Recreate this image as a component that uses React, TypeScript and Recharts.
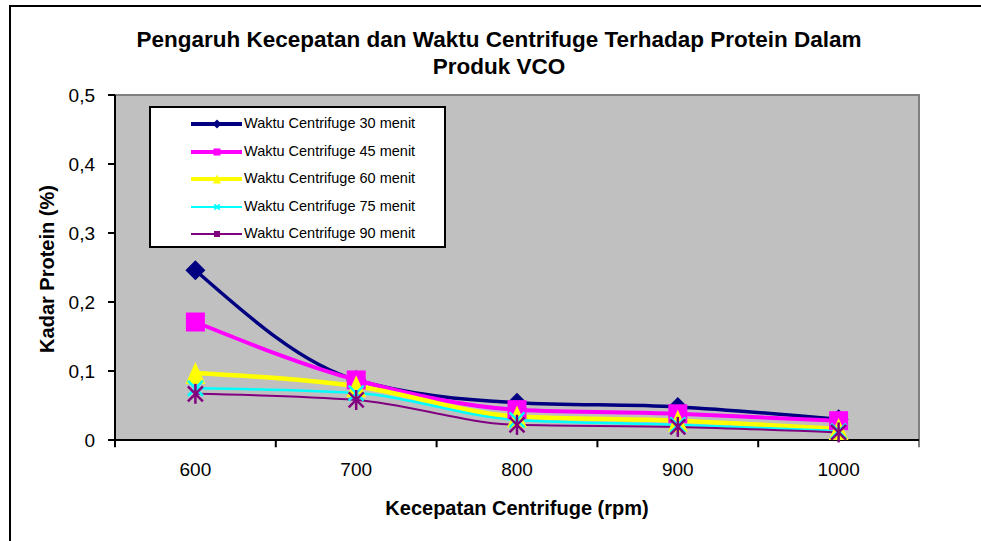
import React from "react"
import {
  LineChart,
  Line,
  XAxis,
  YAxis,
  ReferenceArea,
  ReferenceLine,
  Legend,
} from "recharts"

const rpm = [600, 700, 800, 900, 1000]
const waktu30 = [0.246, 0.087, 0.054, 0.048, 0.03]
const waktu45 = [0.171, 0.087, 0.044, 0.038, 0.028]
const waktu60 = [0.097, 0.078, 0.034, 0.028, 0.016]
const waktu75 = [0.075, 0.068, 0.029, 0.022, 0.013]
const waktu90 = [0.067, 0.058, 0.022, 0.019, 0.011]

const seriesNames = [
  "Waktu Centrifuge 30 menit",
  "Waktu Centrifuge 45 menit",
  "Waktu Centrifuge 60 menit",
  "Waktu Centrifuge 75 menit",
  "Waktu Centrifuge 90 menit",
]
const yTicks = [0, 0.1, 0.2, 0.3, 0.4, 0.5]
const xEdges = [550, 650, 750, 850, 950, 1050]

const chartData = rpm.map((r, i) => ({
  rpm: r,
  w30: waktu30[i],
  w45: waktu45[i],
  w60: waktu60[i],
  w75: waktu75[i],
  w90: waktu90[i],
}))

const FONT = "'Liberation Sans', Arial, sans-serif"

type MarkerKind = "diamond" | "square" | "triangle" | "cross" | "star"

function marker(kind: MarkerKind, cx: number, cy: number, s: number, color: string, sw: number, key?: any) {
  if (kind === "diamond") {
    return <path key={key} d={`M${cx},${cy - s}L${cx + s},${cy}L${cx},${cy + s}L${cx - s},${cy}Z`} fill={color} />
  }
  if (kind === "square") {
    return <rect key={key} x={cx - s} y={cy - s} width={s * 2} height={s * 2} fill={color} />
  }
  if (kind === "triangle") {
    return <path key={key} d={`M${cx},${cy - s}L${cx + s * 0.9},${cy + s}L${cx - s * 0.9},${cy + s}Z`} fill={color} />
  }
  const d = s * 0.75
  return (
    <g key={key} stroke={color} strokeWidth={sw}>
      <line x1={cx - d} y1={cy - d} x2={cx + d} y2={cy + d} />
      <line x1={cx - d} y1={cy + d} x2={cx + d} y2={cy - d} />
      {kind === "star" && <line x1={cx} y1={cy - s} x2={cx} y2={cy + s} />}
    </g>
  )
}

const series = [
  { key: "w30", name: seriesNames[0], color: "#000080", width: 3.5, kind: "diamond" as MarkerKind, size: 10, legendSize: 4.5 },
  { key: "w45", name: seriesNames[1], color: "#FF00FF", width: 4, kind: "square" as MarkerKind, size: 9.5, legendSize: 3.5 },
  { key: "w60", name: seriesNames[2], color: "#FFFF00", width: 4.5, kind: "triangle" as MarkerKind, size: 11, legendSize: 4.5 },
  { key: "w75", name: seriesNames[3], color: "#00FFFF", width: 2.5, kind: "cross" as MarkerKind, size: 10, legendSize: 3.5 },
  { key: "w90", name: seriesNames[4], color: "#800080", width: 2, kind: "star" as MarkerKind, size: 10, legendSize: 3 },
]

function LegendBox() {
  return (
    <div
      style={{
        boxSizing: "border-box",
        width: 297,
        height: 142,
        border: "2px solid #000",
        background: "#fff",
        position: "relative",
        fontFamily: FONT,
        fontSize: 14.5,
        color: "#000",
      }}
    >
      {series.map((s, i) => (
        <div key={s.key} style={{ position: "absolute", left: 0, top: 4 + i * 27.5, height: 24, width: 290 }}>
          <svg width={60} height={24} style={{ position: "absolute", left: 36, top: 0 }}>
            <line x1={4} y1={12} x2={55} y2={12} stroke={s.color} strokeWidth={s.width > 3 ? 4 : 2} />
            {marker(s.kind === "star" ? "square" : s.kind, 30, 12, s.legendSize, s.color, 2)}
          </svg>
          <span style={{ position: "absolute", left: 93, top: 3, whiteSpace: "nowrap" }}>{s.name}</span>
        </div>
      ))}
    </div>
  )
}

export default function App() {
  return (
    <div style={{ position: "absolute", left: 0, top: 0, width: 981, height: 541, background: "#fff", overflow: "hidden" }}>
      <div
        style={{
          position: "absolute",
          left: 9,
          top: 5,
          width: 972,
          height: 536,
          borderLeft: "2px solid #000",
          borderTop: "2px solid #000",
          boxSizing: "border-box",
        }}
      />
      <LineChart
        width={981}
        height={541}
        data={chartData}
        margin={{ top: 95, right: 62, bottom: 61, left: 0 }}
        style={{ fontFamily: FONT }}
      >
        <ReferenceArea
          x1={550}
          x2={1050}
          y1={0}
          y2={0.5}
          fill="#C0C0C0"
          fillOpacity={1}
          stroke="#808080"
          strokeWidth={2}
        />
        <XAxis
          dataKey="rpm"
          type="number"
          domain={[550, 1050]}
          ticks={rpm}
          height={40}
          tickSize={6}
          tickMargin={17}
          tickLine={false}
          axisLine={{ stroke: "#000", strokeWidth: 2 }}
          tick={{ fontSize: 19, fill: "#000", fontFamily: FONT }}
        />
        <YAxis
          type="number"
          domain={[0, 0.5]}
          ticks={yTicks}
          width={115}
          tickSize={7}
          tickMargin={13}
          axisLine={{ stroke: "#000", strokeWidth: 2 }}
          tickLine={{ stroke: "#000", strokeWidth: 2 }}
          tick={{ fontSize: 19, fill: "#000", fontFamily: FONT }}
          tickFormatter={(v: number) => (v === 0 ? "0" : v.toFixed(1).replace(".", ","))}
        />
        {xEdges.map((e) => (
          <ReferenceLine
            key={e}
            segment={[
              { x: e, y: 0 },
              { x: e, y: -0.0105 },
            ]}
            stroke={e === 1050 ? "#808080" : "#000"}
            strokeWidth={2}
            ifOverflow="visible"
          />
        ))}
        {series.map((s) => (
          <Line
            key={s.key}
            type="monotone"
            dataKey={s.key}
            name={s.name}
            stroke={s.color}
            strokeWidth={s.width}
            isAnimationActive={false}
            dot={(p: any) => marker(s.kind, p.cx, p.cy, s.size, s.color, 2.5, p.index)}
            activeDot={false}
          />
        ))}
        <Legend
          layout="vertical"
          align="center"
          verticalAlign="middle"
          content={() => <LegendBox />}
          wrapperStyle={{ left: 149, top: 106, width: 297, height: 142 }}
        />
      </LineChart>
      <div
        style={{
          position: "absolute",
          left: 17,
          width: 964,
          top: 26,
          textAlign: "center",
          fontFamily: FONT,
          fontWeight: "bold",
          fontSize: 22.5,
          lineHeight: "27px",
          color: "#000",
        }}
      >
        Pengaruh Kecepatan dan Waktu Centrifuge Terhadap Protein Dalam
        <br />
        Produk VCO
      </div>
      <div
        style={{
          position: "absolute",
          left: 317,
          width: 400,
          top: 496,
          textAlign: "center",
          fontFamily: FONT,
          fontWeight: "bold",
          fontSize: 20,
          lineHeight: "24px",
          color: "#000",
        }}
      >
        Kecepatan Centrifuge (rpm)
      </div>
      <div
        style={{
          position: "absolute",
          left: 47 - 150,
          width: 300,
          top: 269 - 12,
          textAlign: "center",
          fontFamily: FONT,
          fontWeight: "bold",
          fontSize: 20,
          lineHeight: "24px",
          color: "#000",
          transform: "rotate(-90deg)",
        }}
      >
        Kadar Protein (%)
      </div>
    </div>
  )
}
